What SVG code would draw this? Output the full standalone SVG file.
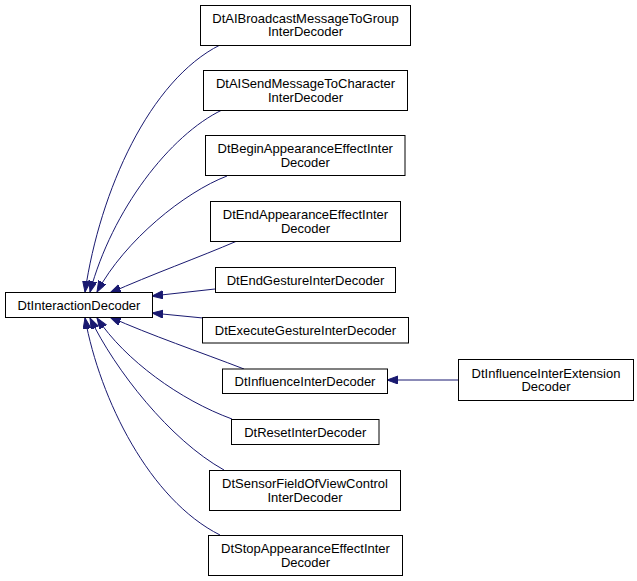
<svg xmlns="http://www.w3.org/2000/svg" width="637" height="581" viewBox="0 0 637 581">
<style>
.node rect{fill:#fff;stroke:#000;stroke-width:1}
.node text{font-family:"Liberation Sans",Arial,sans-serif;font-size:13px;fill:#000;text-anchor:middle}
.edges path{fill:none;stroke:#191970;stroke-width:1}
</style>
<defs>
<marker id="arr" markerUnits="userSpaceOnUse" markerWidth="12" markerHeight="9" refX="11" refY="4" orient="auto">
<path d="M0,0 L11,4 L0,8 z" fill="#191970" stroke="#191970" stroke-width="1"/>
</marker>
</defs>
<rect width="637" height="581" fill="#fff"/>
<g class="edges">
<path d="M220,45 C150,80 100,190 85,292" marker-end="url(#arr)"/>
<path d="M222,110 C170,135 112,210 90,292" marker-end="url(#arr)"/>
<path d="M227,176 C185,192 125,240 97,292" marker-end="url(#arr)"/>
<path d="M237,241 C200,257 150,275 110,293" marker-end="url(#arr)"/>
<path d="M215,289 L152,296" marker-end="url(#arr)"/>
<path d="M203,318 L152,313" marker-end="url(#arr)"/>
<path d="M244,369 C200,352 150,335 110,317" marker-end="url(#arr)"/>
<path d="M232,419 C180,400 125,360 97,318" marker-end="url(#arr)"/>
<path d="M224,470 C170,440 115,370 90,318" marker-end="url(#arr)"/>
<path d="M220,535 C150,500 100,400 85,318" marker-end="url(#arr)"/>
<path d="M458,380 L387,380" marker-end="url(#arr)"/>
</g>
<g id="n1" class="node"><rect x="200.5" y="5.5" width="210" height="40"/><text x="305.5" y="22.5">DtAIBroadcastMessageToGroup</text><text x="305.5" y="36">InterDecoder</text></g>
<g id="n2" class="node"><rect x="203.5" y="70.5" width="204" height="40"/><text x="305.5" y="88">DtAISendMessageToCharacter</text><text x="305.5" y="101.5">InterDecoder</text></g>
<g id="n3" class="node"><rect x="205.5" y="135.5" width="199.5" height="40"/><text x="305.25" y="153">DtBeginAppearanceEffectInter</text><text x="305.25" y="166.5">Decoder</text></g>
<g id="n4" class="node"><rect x="210.5" y="201.5" width="190" height="40"/><text x="305.5" y="219">DtEndAppearanceEffectInter</text><text x="305.5" y="232.5">Decoder</text></g>
<g id="n5" class="node"><rect x="215.5" y="267.5" width="180" height="25"/><text x="305.5" y="284.5">DtEndGestureInterDecoder</text></g>
<g id="n6" class="node"><rect x="5.5" y="292.5" width="147" height="25"/><text x="79" y="309.5">DtInteractionDecoder</text></g>
<g id="n7" class="node"><rect x="202.5" y="317.5" width="206" height="25.5"/><text x="305.5" y="335">DtExecuteGestureInterDecoder</text></g>
<g id="n8" class="node"><rect x="222.5" y="369" width="165" height="24.5"/><text x="305" y="386">DtInfluenceInterDecoder</text></g>
<g id="n9" class="node"><rect x="231.5" y="419.5" width="147.5" height="25"/><text x="305.25" y="436.5">DtResetInterDecoder</text></g>
<g id="n10" class="node"><rect x="209.5" y="470.5" width="191" height="40"/><text x="305" y="488">DtSensorFieldOfViewControl</text><text x="305" y="501.5">InterDecoder</text></g>
<g id="n11" class="node"><rect x="208.5" y="535.5" width="194" height="40"/><text x="305.5" y="553">DtStopAppearanceEffectInter</text><text x="305.5" y="566.5">Decoder</text></g>
<g id="n12" class="node"><rect x="458.5" y="359.5" width="175" height="41"/><text x="546" y="377.5">DtInfluenceInterExtension</text><text x="546" y="391">Decoder</text></g>
</svg>
